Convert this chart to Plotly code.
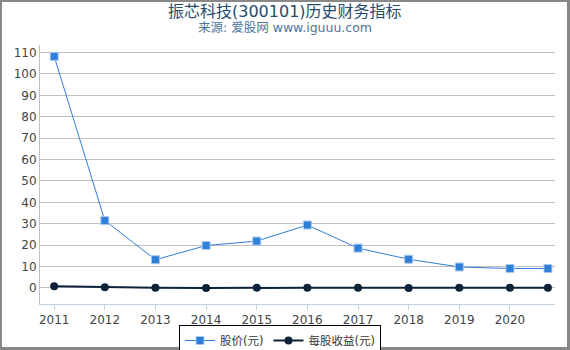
import plotly.graph_objects as go

years = [2011, 2012, 2013, 2014, 2015, 2016, 2017, 2018, 2019, 2020, 2020.75]
price = [108.2, 31.5, 13.2, 19.8, 21.9, 29.4, 18.6, 13.4, 9.8, 9.1, 9.1]
eps = [0.78, 0.3, 0.05, -0.05, 0.15, 0.12, 0.06, 0.03, 0.04, 0.05, 0.06]
tick_years = [2011, 2012, 2013, 2014, 2015, 2016, 2017, 2018, 2019, 2020]

FONT = "DejaVu Sans, Noto Sans CJK SC, sans-serif"

fig = go.Figure()
fig.add_trace(go.Scatter(
    x=years, y=price, name="股价(元)", mode="lines+markers",
    line=dict(color="#2f7ed8", width=1),
    marker=dict(symbol="square", size=8, color="#2f7ed8",
                line=dict(color="#a9c8f0", width=1)),
))
fig.add_trace(go.Scatter(
    x=years, y=eps, name="每股收益(元)", mode="lines+markers",
    line=dict(color="#0d233a", width=2),
    marker=dict(symbol="circle", size=8, color="#0d233a"),
))

W, H = 570, 350
L, R, T, B = 40, 15, 45, 46
pw, ph = W - L - R, H - T - B

def px_x(p):
    return (p - L) / pw

def px_y(p):
    return 1 - (p - T) / ph

fig.update_layout(
    width=W, height=H,
    margin=dict(l=L, r=R, t=T, b=B, autoexpand=False),
    paper_bgcolor="white", plot_bgcolor="white",
    font=dict(family=FONT, size=12, color="#444"),
    showlegend=True,
    legend=dict(
        orientation="h", xref="paper", yref="paper",
        x=px_x(280), xanchor="center", y=px_y(325), yanchor="top",
        bordercolor="black", borderwidth=1,
        font=dict(size=11.5, color="#333"),
        itemwidth=30, tracegroupgap=0, valign="middle",
    ),
    xaxis=dict(
        range=[2010.72, 2020.89], tickvals=tick_years,
        ticktext=[str(y) for y in tick_years],
        showgrid=False, zeroline=False,
        showline=True, linecolor="#c0d0e0", linewidth=1,
        ticks="outside", ticklen=5, tickcolor="#c0d0e0",
        tickfont=dict(size=12, color="#444"),
    ),
    yaxis=dict(
        range=[-7.5, 113.5], dtick=10, tick0=0,
        showgrid=True, gridcolor="#c0c0c0", gridwidth=1,
        zeroline=False, showline=True, linecolor="#c0c0c0", linewidth=1,
        ticks="", tickfont=dict(size=12, color="#444"),
    ),
    annotations=[
        dict(text="振芯科技(300101)历史财务指标", xref="paper", yref="paper",
             x=px_x(285), y=px_y(11), xanchor="center", yanchor="middle",
             showarrow=False, font=dict(size=16, color="#274b6d", family=FONT)),
        dict(text="来源: 爱股网 www.iguuu.com", xref="paper", yref="paper",
             x=px_x(285), y=px_y(28), xanchor="center", yanchor="middle",
             showarrow=False, font=dict(size=12.5, color="#4d759e", family=FONT)),
    ],
    shapes=[
        dict(type="rect", xref="paper", yref="paper",
             x0=px_x(0.5), x1=px_x(568.5), y0=px_y(348.5), y1=px_y(0.5),
             line=dict(color="#888888", width=3), fillcolor="rgba(0,0,0,0)",
             layer="above"),
    ],
)

fig.write_html("out.html")
